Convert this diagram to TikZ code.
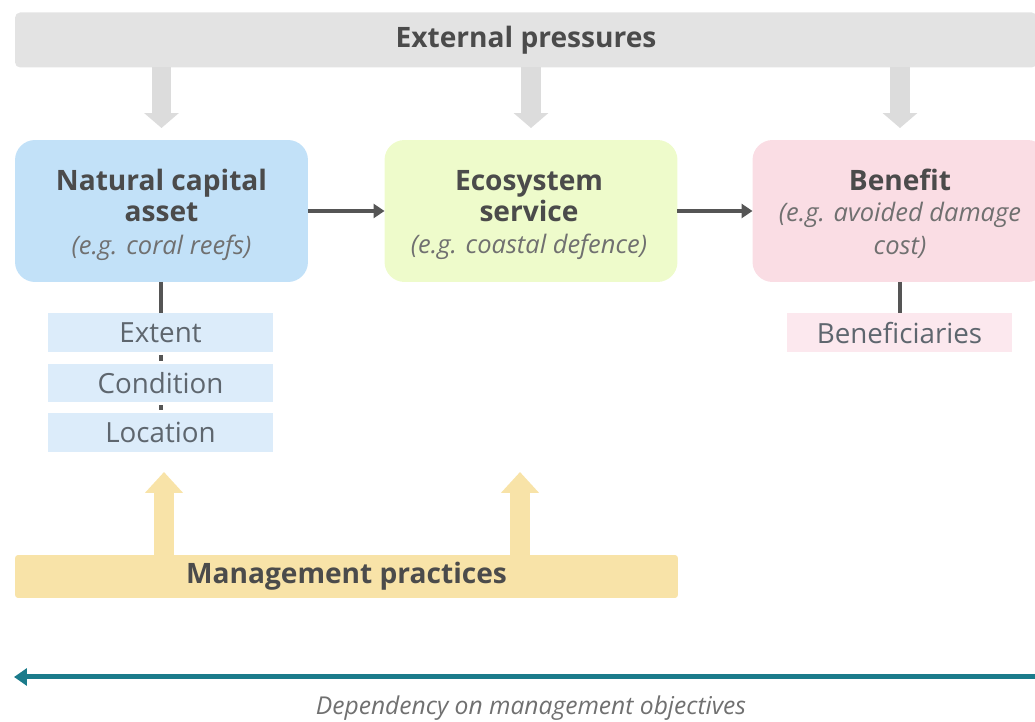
\documentclass[tikz,border=0pt]{standalone}
\usepackage{fontspec}
\setmainfont{Open Sans}
\usepackage{tikz}
\usetikzlibrary{arrows.meta}

\definecolor{pressbar}{HTML}{E3E3E3}
\definecolor{pressarr}{HTML}{DCDCDC}
\definecolor{assetblue}{HTML}{C2E1F8}
\definecolor{attrblue}{HTML}{DCECFA}
\definecolor{servgreen}{HTML}{EEFBCB}
\definecolor{benpink}{HTML}{FADDE4}
\definecolor{attrpink}{HTML}{FCE8EE}
\definecolor{mgmtyellow}{HTML}{F8E3A8}
\definecolor{depteal}{HTML}{1B7B8B}
\definecolor{titlegray}{HTML}{4B4B4B}
\definecolor{subgray}{HTML}{707070}
\definecolor{attrgray}{HTML}{5E666E}
\definecolor{linegray}{HTML}{555555}

\begin{document}
\begin{tikzpicture}[x=0.02cm, y=-0.02cm,
  every node/.style={outer sep=0pt, inner sep=0pt, align=center, text=titlegray},
  bigbox/.style={rounded corners=0.4cm, minimum width=5.86cm, minimum height=2.84cm},
  boxtext/.style={font=\fontsize{16}{17.6}\selectfont},
  sub/.style={font=\fontsize{14.5}{17.6}\selectfont\itshape},
  attrbox/.style={minimum width=4.5cm, minimum height=0.78cm, font=\fontsize{15.8}{18}\selectfont, text=attrgray},
  flow/.style={draw=linegray, line width=0.08cm, -{Triangle[width=0.28cm,length=0.22cm]}},
  link/.style={draw=linegray, line width=0.08cm},
  pressarrow/.style={draw=pressarr, line width=0.4cm, -{Triangle[width=0.68cm,length=0.3cm]}, shorten >=0.24cm},
  mgmtarrow/.style={draw=mgmtyellow, line width=0.4cm, -{Triangle[width=0.74cm,length=0.42cm]}}]
\useasboundingbox (0,0) rectangle (1035,722);

% top bar
\node[fill=pressbar, rounded corners=0.1cm, minimum width=20.44cm, minimum height=1.1cm,
  font=\fontsize{16}{18}\selectfont\bfseries] (ext) at (526,40) {External pressures};

% main chain
\node[bigbox, fill=assetblue] (nca) at (161.5,211) {};
\node[boxtext] (ncatext) at (161.5,215)
  {\textbf{Natural capital}\\ \textbf{asset}\\[1pt] {\fontsize{14.5}{17.6}\selectfont\itshape\color{subgray}(e.g. coral reefs)}};
\node[bigbox, fill=servgreen] (es) at (531,211) {};
\node[boxtext] (estext) at (529,215)
  {\textbf{Ecosystem}\\ \textbf{service}\\[1pt] {\fontsize{14.5}{17.6}\selectfont\itshape\color{subgray}(e.g. coastal defence)}};
\node[bigbox, fill=benpink, minimum width=5.9cm] (ben) at (900,211) {};
\node[boxtext] (bentext) at (900,214)
  {\textbf{Benefit}\\ {\fontsize{14.5}{17.6}\selectfont\itshape\color{subgray}(e.g. avoided damage}\\[1pt] {\fontsize{14.5}{17.6}\selectfont\itshape\color{subgray}cost)}};

\draw[flow] (nca.east) -- (es.west);
\draw[flow] (es.east) -- (ben.west);

% pressures
\draw[pressarrow] (ext.south -| nca.north) -- (nca.north);
\draw[pressarrow] (ext.south -| es.north) -- (es.north);
\draw[pressarrow] (ext.south -| ben.north) -- (ben.north);

% asset attributes
\node[attrbox, fill=attrblue] (extent) at (160.5,332.5) {Extent};
\node[attrbox, fill=attrblue] (cond) at (160.5,383) {Condition};
\node[attrbox, fill=attrblue] (loc) at (160.5,432.5) {Location};
\draw[link] (nca.south -| extent.north) -- (extent.north);
\draw[link, shorten <=0.06cm, shorten >=0.06cm] (extent.south) -- (cond.north);
\draw[link, shorten <=0.06cm, shorten >=0.06cm] (cond.south) -- (loc.north);

% beneficiaries
\node[attrbox, fill=attrpink] (benef) at (899.5,333) {Beneficiaries};
\draw[link] (ben.south -| benef.north) -- (benef.north);

% management
\node[fill=mgmtyellow, rounded corners=0.06cm, minimum width=13.26cm, minimum height=0.86cm,
  font=\fontsize{16}{18}\selectfont\bfseries] (mgmt) at (346.5,576.5) {Management practices};
\coordinate (mup1) at (164,472);
\coordinate (mup2) at (520,472);
\draw[mgmtarrow] (mgmt.north -| mup1) -- (mup1);
\draw[mgmtarrow] (mgmt.north -| mup2) -- (mup2);

% dependency
\coordinate (depstart) at (1040,677);
\coordinate (depend) at (14,677);
\draw[draw=depteal, line width=0.1cm, -{Triangle[width=0.34cm,length=0.26cm]}] (depstart) -- (depend);
\node[font=\fontsize{14}{16}\selectfont\itshape, text=subgray] (deplabel) at (531,708)
  {Dependency on management objectives};
\end{tikzpicture}
\end{document}
